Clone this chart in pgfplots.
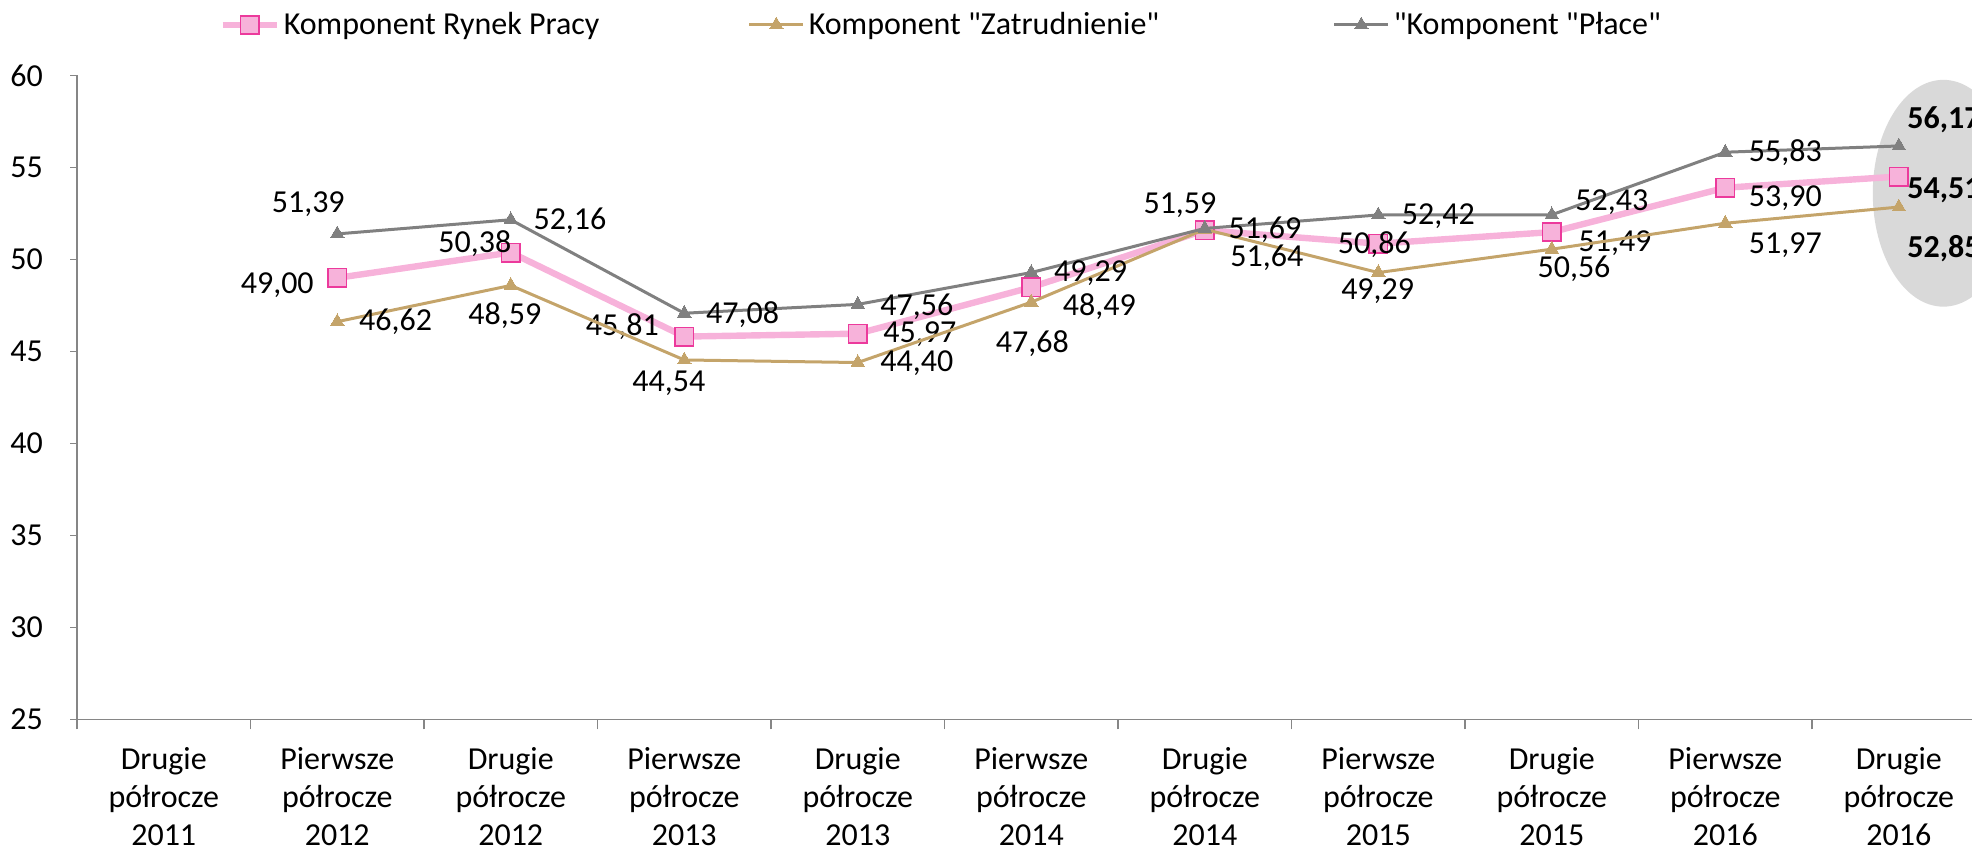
\documentclass[border=0pt]{standalone}
\usepackage{pgfplots}
\pgfplotsset{compat=1.18}
\usepackage{pgfplotstable}
\usepackage{fontspec}
\setmainfont{Carlito}[Ligatures=TeXOff]
\definecolor{pinkline}{HTML}{F7B2DA}
\definecolor{pinkedge}{HTML}{EC3A9C}
\definecolor{tanline}{HTML}{C4A46A}
\definecolor{grayline}{HTML}{808080}
\definecolor{axisgray}{HTML}{868686}
\definecolor{ellgray}{HTML}{D9D9D9}

% x y dx dy b  (dx, dy: label offsets in pt)
\pgfplotstableread{
x y dx dy b
1 49.00 -30 -3.5 0
2 50.38 -18 4.2 0
3 45.81 -31 5 0
4 45.97 31 -0.3 0
5 48.49 34 -9.7 0
6 51.59 -12.4 12.6 0
7 50.86 -2 -0.7 0
8 51.49 31.6 -5.6 0
9 53.90 30 -5.3 0
10 54.51 22.6 -7.1 1
}\rynek
\pgfplotstableread{
x y dx dy b
1 46.62 29.2 0 0
2 48.59 -3 -15.2 0
3 44.54 -7.7 -11.6 0
4 44.40 29.5 -0.4 0
5 47.68 0.5 -20.9 0
6 51.64 31 -14 0
7 49.29 -0.3 -9.5 0
8 50.56 11.1 -9.6 0
9 51.97 30 -10.9 0
10 52.85 22.6 -20.6 1
}\zatr
\pgfplotstableread{
x y dx dy b
1 51.39 -14.5 15.1 0
2 52.16 29.6 -0.5 0
3 47.08 29.2 -0.5 0
4 47.56 29.5 -1 0
5 49.29 29.7 -0.3 0
6 51.69 30.1 -0.8 0
7 52.42 30 -0.5 0
8 52.43 30 6.5 0
9 55.83 30 0 0
10 56.17 22.6 13 1
}\place

\pgfplotsset{
  lbl/.style={
    point meta=explicit,
    nodes near coords={\ifdim\isbold pt>0.5pt \bfseries\fi\pgfmathprintnumber[fixed,fixed zerofill,precision=2,use comma]{\pgfplotspointmeta}},
    visualization depends on={\thisrow{dx}\as\ldx},
    visualization depends on={\thisrow{dy}\as\ldy},
    visualization depends on={\thisrow{b}\as\isbold},
    every node near coord/.append style={anchor=center, xshift=\ldx pt, yshift=\ldy pt, font=\fontsize{16}{19}\selectfont, text=black, inner sep=0pt},
  },
}

\begin{document}
\begin{tikzpicture}
\begin{axis}[
  scale only axis,
  width=947.5pt, height=322pt,
  xmin=-0.5, xmax=10.422,
  ymin=25, ymax=60,
  ytick={25,30,...,60},
  xtick={0,...,10},
  xticklabels={
    {Drugie\\półrocze\\2011},{Pierwsze\\półrocze\\2012},{Drugie\\półrocze\\2012},
    {Pierwsze\\półrocze\\2013},{Drugie\\półrocze\\2013},{Pierwsze\\półrocze\\2014},
    {Drugie\\półrocze\\2014},{Pierwsze\\półrocze\\2015},{Drugie\\półrocze\\2015},
    {Pierwsze\\półrocze\\2016},{Drugie\\półrocze\\2016}},
  minor xtick={-0.5,0.5,...,10.5},
  tick align=outside,
  major tick length=3.5pt,
  minor tick length=5pt,
  x tick style={draw=none},
  minor x tick style={draw=axisgray, line width=0.6pt},
  y tick style={draw=axisgray, line width=0.6pt},
  axis x line*=bottom, axis y line*=left,
  axis line style={draw=axisgray, line width=0.6pt, -},
  /pgf/number format/assume math mode=true,
  tick label style={font=\fontsize{16}{19}\selectfont},
  xticklabel style={align=center, yshift=-7pt},
  yticklabel style={xshift=-10pt},
  clip mode=individual,
  legend columns=3,
  legend style={at={(0,1)}, anchor=west, xshift=71pt, yshift=25.25pt,
    draw=none, fill=none, inner sep=0pt,
    font=\fontsize{16}{19}\selectfont,
    /tikz/every even column/.append style={column sep=0pt}},
  legend cell align=left,
  legend image code/.code={\draw[mark repeat=2,mark phase=2,#1] plot coordinates {(0pt,0pt) (13.5pt,0pt) (27pt,0pt)};},
]
\fill[ellgray] (axis cs:10.257,53.6) ellipse [x radius=35.3pt, y radius=56.7pt];
\coordinate (bl) at (rel axis cs:0,0);
\coordinate (tr) at (rel axis cs:1,1);

\addplot[pinkline, line width=3.2pt, mark=square*, mark size=4.6pt,
  mark options={fill=pinkline, draw=pinkedge, line width=0.8pt}, lbl]
  table[x=x, y=y, meta=y] {\rynek};
\addlegendentry{\makebox[230pt][l]{Komponent Rynek Pracy}}

\addplot[tanline, line width=1.5pt, mark=triangle*, mark size=3.9pt,
  mark options={fill=tanline, draw=tanline, line width=0pt}, lbl]
  table[x=x, y=y, meta=y] {\zatr};
\addlegendentry{\makebox[260pt][l]{Komponent "Zatrudnienie"}}

\addplot[grayline, line width=1.5pt, mark=triangle*, mark size=3.9pt,
  mark options={fill=grayline, draw=grayline, line width=0pt}, lbl]
  table[x=x, y=y, meta=y] {\place};
\addlegendentry{"Komponent "Płace"}
\end{axis}
\pgfresetboundingbox
\useasboundingbox ([xshift=-38.5pt, yshift=-65.8pt]bl) rectangle ([yshift=37.75pt]tr);
\end{tikzpicture}
\end{document}
